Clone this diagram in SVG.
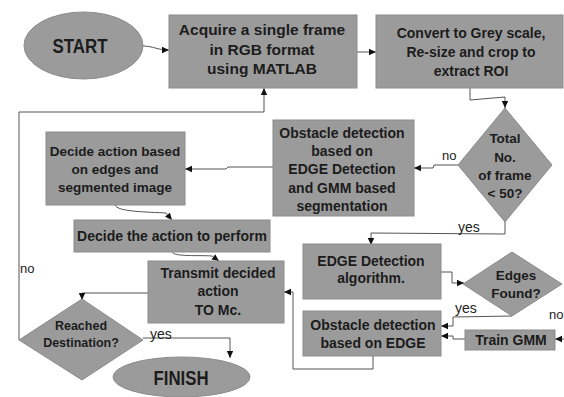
<svg xmlns="http://www.w3.org/2000/svg" width="564" height="397" viewBox="0 0 564 397">
<style>
.n{fill:#9b9b9b;stroke:#8c8c8c;stroke-width:1}
.t{font-family:"Liberation Sans",Arial,sans-serif;font-weight:bold;fill:#1c1c1c;text-anchor:middle}
.l{font-family:"Liberation Sans",Arial,sans-serif;fill:#222;font-size:13px}
.c{fill:none;stroke:#555;stroke-width:1}
</style>
<defs>
<marker id="a" markerWidth="8" markerHeight="8" refX="7" refY="4" orient="auto" markerUnits="userSpaceOnUse">
<path d="M0,0.8 L7,4 L0,7.2 Z" fill="#111"/>
</marker>
</defs>
<rect width="564" height="397" fill="#ffffff"/>
<g id="connectors">
<path class="c" marker-end="url(#a)" d="M143,46 C153,46 157,50 169,50"/>
<path class="c" marker-end="url(#a)" d="M357,52 L376,52"/>
<path class="c" marker-end="url(#a)" d="M470,88 L470,100 L505,97 L505,108"/>
<path class="c" marker-end="url(#a)" d="M458,165 L434,165 L433,168 L414,168"/>
<path class="c" marker-end="url(#a)" d="M273,167 L228,167 L226,169 L185,169"/>
<path class="c" marker-end="url(#a)" d="M115,205 C117,212 150,212 166,213 L172,220"/>
<path class="c" marker-end="url(#a)" d="M172,252 C174,257 200,255 212,256 L219,261"/>
<path class="c" marker-end="url(#a)" d="M373,356 L373,369 L293,369 L293,292 L284,292"/>
<path class="c" marker-end="url(#a)" d="M148,293 L82,293 L82,300"/>
<path class="c" marker-end="url(#a)" d="M19,340 L19,112 L264,112 L264,88"/>
<path class="c" marker-end="url(#a)" d="M143,338 L230,338 L230,358"/>
<path class="c" marker-end="url(#a)" d="M505,222 L505,234 L371,233 L371,245"/>
<path class="c" marker-end="url(#a)" d="M441,272 L452,272 L452,283 L464,283"/>
<path class="c" marker-end="url(#a)" d="M512,316 L453,317 L453,326 L441,326"/>
<path class="c" marker-end="url(#a)" d="M465,339 L453,339 L453,336 L441,336"/>
<path class="c" marker-end="url(#a)" d="M566,339 L555,339"/>
<text class="l" x="442" y="160">no</text>
<text class="l" x="458" y="232" style="font-size:14px">yes</text>
<text class="l" x="20" y="273">no</text>
<text class="l" x="150" y="339" style="font-size:14px">yes</text>
<text class="l" x="455" y="313" style="font-size:14px">yes</text>
<text class="l" x="549" y="319">no</text>
</g>
<g id="start">
<ellipse class="n" cx="83.5" cy="45.5" rx="59.5" ry="33.5"/>
<text class="t" x="80" y="52.5" style="font-size:20px" textLength="55" lengthAdjust="spacingAndGlyphs">START</text>
</g>
<g id="acquire">
<rect class="n" x="169" y="15" width="188" height="73"/>
<text class="t" style="font-size:15.5px" x="262"><tspan x="262" y="35">Acquire a single frame</tspan><tspan x="262" y="55">in RGB format</tspan><tspan x="262" y="74">using MATLAB</tspan></text>
</g>
<g id="convert">
<rect class="n" x="376" y="15" width="187" height="73"/>
<text class="t" style="font-size:14px"><tspan x="471" y="38">Convert to Grey scale,</tspan><tspan x="471" y="57">Re-size and crop to</tspan><tspan x="471" y="76">extract ROI</tspan></text>
</g>
<g id="total">
<polygon class="n" points="505,108 552,165 505,222 458,165"/>
<text class="t" style="font-size:13.5px"><tspan x="505" y="143">Total</tspan><tspan x="505" y="162">No.</tspan><tspan x="505" y="180">of frame</tspan><tspan x="505" y="198">&lt; 50?</tspan></text>
</g>
<g id="obstacle-gmm">
<rect class="n" x="273" y="120" width="141" height="96"/>
<text class="t" style="font-size:14px"><tspan x="342" y="137.5">Obstacle detection</tspan><tspan x="342" y="156">based on</tspan><tspan x="342" y="174">EDGE Detection</tspan><tspan x="342" y="192.5">and GMM based</tspan><tspan x="342" y="210.5">segmentation</tspan></text>
</g>
<g id="decide-based">
<rect class="n" x="46" y="132" width="139" height="73"/>
<text class="t" style="font-size:13.5px"><tspan x="115" y="156">Decide action based</tspan><tspan x="115" y="174">on edges and</tspan><tspan x="115" y="192">segmented image</tspan></text>
</g>
<g id="decide-action">
<rect class="n" x="74" y="220" width="196" height="32"/>
<text class="t" style="font-size:14px" x="172" y="240.5">Decide the action to perform</text>
</g>
<g id="transmit">
<rect class="n" x="148" y="261" width="136" height="62"/>
<text class="t" style="font-size:14px"><tspan x="218" y="278">Transmit decided</tspan><tspan x="218" y="296">action</tspan><tspan x="218" y="315">TO Mc.</tspan></text>
</g>
<g id="reached">
<polygon class="n" points="82,299 143,340 82,380 19,340"/>
<text class="t" style="font-size:12.5px"><tspan x="81" y="329.5">Reached</tspan><tspan x="81" y="346.5">Destination?</tspan></text>
</g>
<g id="finish">
<ellipse class="n" cx="181.5" cy="377" rx="68.5" ry="20"/>
<text class="t" x="181" y="384.5" style="font-size:20px" textLength="55" lengthAdjust="spacingAndGlyphs">FINISH</text>
</g>
<g id="edge-detection">
<rect class="n" x="303" y="244" width="138" height="55"/>
<text class="t" style="font-size:14px"><tspan x="371" y="266">EDGE Detection</tspan><tspan x="371" y="283">algorithm.</tspan></text>
</g>
<g id="edges-found">
<polygon class="n" points="512,252 562,284 512,316 463,284"/>
<text class="t" style="font-size:13.5px"><tspan x="516" y="280">Edges</tspan><tspan x="516" y="298">Found?</tspan></text>
</g>
<g id="obstacle-edge">
<rect class="n" x="303" y="311" width="138" height="45"/>
<text class="t" style="font-size:14px"><tspan x="373" y="330">Obstacle detection</tspan><tspan x="373" y="348">based on EDGE</tspan></text>
</g>
<g id="train-gmm">
<rect class="n" x="465" y="330" width="90" height="20"/>
<text class="t" style="font-size:14px" x="511" y="345">Train GMM</text>
</g>
</svg>
